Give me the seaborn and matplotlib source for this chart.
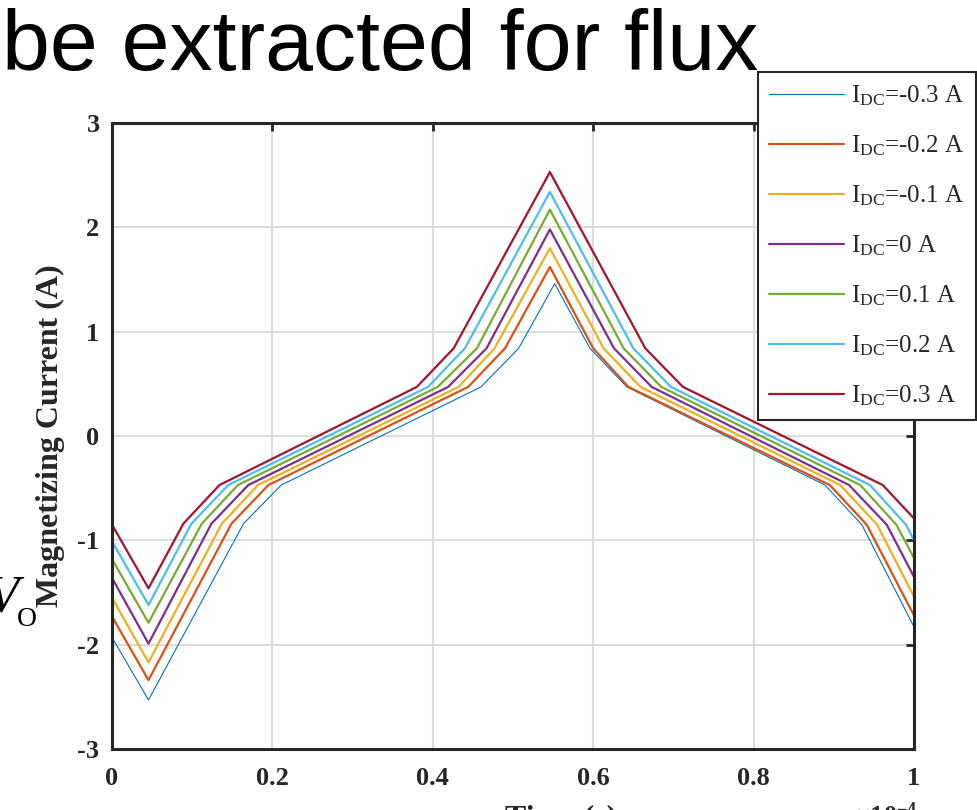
import pandas as pd
import matplotlib
matplotlib.use('Agg')
import matplotlib.pyplot as plt
import seaborn as sns

# ── Data (time axis in units of 1e-4 s) ────────────────────────────
idc_labels = ['-0.3', '-0.2', '-0.1', '0', '0.1', '0.2', '0.3']
colors = ['#0072BD', '#D95319', '#EDB120', '#7E2F8E', '#77AC30', '#4DBEEE', '#A2142F']
widths = [0.8, 1.6, 1.6, 1.6, 1.6, 1.6, 1.6]

t_m03 = [0, 0.0455, 0.164, 0.211, 0.460, 0.507, 0.552, 0.596, 0.642, 0.889, 0.935, 1.0]
i_m03 = [-1.93, -2.53, -0.84, -0.47, 0.47, 0.84, 1.46, 0.84, 0.47, -0.47, -0.85, -1.83]

t_m02 = [0, 0.0455, 0.149, 0.195, 0.444, 0.490, 0.546, 0.600, 0.644, 0.895, 0.941, 1.0]
i_m02 = [-1.73, -2.34, -0.84, -0.47, 0.47, 0.84, 1.62, 0.84, 0.47, -0.47, -0.85, -1.72]

t_m01 = [0, 0.0455, 0.137, 0.182, 0.432, 0.477, 0.546, 0.613, 0.659, 0.908, 0.954, 1.0]
i_m01 = [-1.55, -2.17, -0.84, -0.47, 0.47, 0.84, 1.80, 0.84, 0.47, -0.47, -0.85, -1.54]

t_0 = [0, 0.0455, 0.124, 0.170, 0.419, 0.467, 0.546, 0.626, 0.673, 0.919, 0.966, 1.0]
i_0 = [-1.36, -1.99, -0.84, -0.47, 0.47, 0.84, 1.98, 0.84, 0.47, -0.47, -0.85, -1.35]

t_p01 = [0, 0.0455, 0.112, 0.157, 0.406, 0.455, 0.546, 0.638, 0.685, 0.933, 0.978, 1.0]
i_p01 = [-1.18, -1.79, -0.84, -0.47, 0.47, 0.84, 2.17, 0.84, 0.47, -0.47, -0.85, -1.17]

t_p02 = [0, 0.0455, 0.099, 0.145, 0.394, 0.440, 0.546, 0.650, 0.697, 0.945, 0.990, 1.0]
i_p02 = [-1.01, -1.62, -0.84, -0.47, 0.47, 0.84, 2.34, 0.84, 0.47, -0.47, -0.85, -1.00]

t_p03 = [0, 0.0455, 0.089, 0.134, 0.380, 0.426, 0.546, 0.665, 0.712, 0.961, 1.0]
i_p03 = [-0.85, -1.46, -0.84, -0.47, 0.47, 0.84, 2.53, 0.84, 0.47, -0.47, -0.79]

times = [t_m03, t_m02, t_m01, t_0, t_p01, t_p02, t_p03]
currents = [i_m03, i_m02, i_m01, i_0, i_p01, i_p02, i_p03]

xticks = [0, 0.2, 0.4, 0.6, 0.8, 1]
xticklabels = ['0', '0.2', '0.4', '0.6', '0.8', '1']
yticks = [-3, -2, -1, 0, 1, 2, 3]
yticklabels = ['-3', '-2', '-1', '0', '1', '2', '3']

# ── Style ──────────────────────────────────────────────
sns.set_theme(style='white')
plt.rcParams['font.family'] = ['Liberation Serif', 'DejaVu Serif']
plt.rcParams['mathtext.fontset'] = 'custom'
plt.rcParams['mathtext.rm'] = 'Liberation Serif'
plt.rcParams['mathtext.it'] = 'Liberation Serif:italic'
plt.rcParams['mathtext.bf'] = 'Liberation Serif:bold'
plt.rcParams['axes.unicode_minus'] = False

fig = plt.figure(figsize=(9.77, 8.10), dpi=100)
ax = fig.add_axes([112 / 977, 61 / 810, 802 / 977, 626 / 810])

# ── Curves ─────────────────────────────────────────────
for lab, t, i, c, w in zip(idc_labels, times, currents, colors, widths):
    d = pd.DataFrame({'t': t, 'i': i})
    sns.lineplot(data=d, x='t', y='i', ax=ax, color=c, linewidth=w, sort=False,
                 estimator=None, label=r'$\mathrm{I_{DC}}$=' + lab + ' A')

ax.set_xlim(0, 1)
ax.set_ylim(-3, 3)
ax.set_xticks(xticks)
ax.set_xticklabels(xticklabels, fontweight='bold')
ax.set_yticks(yticks)
ax.set_yticklabels(yticklabels, fontweight='bold')
ax.tick_params(direction='in', length=6, width=2, top=True, right=True,
               labelsize=19, colors='#262626')
ax.tick_params(axis='x', pad=13)
ax.tick_params(axis='y', pad=9)
ax.grid(True, color='#dcdcdc', linewidth=1.5)
ax.set_axisbelow(True)
for s in ax.spines.values():
    s.set_color('#262626')
    s.set_linewidth(2.2)

ax.set_ylabel('Magnetizing Current (A)', fontsize=23, fontweight='bold', color='#262626')
ax.yaxis.set_label_coords(-0.058, 0.5)
ax.set_xlabel('Time (s)', fontsize=23, fontweight='bold', color='#262626')
ax.xaxis.set_label_coords(0.56, -0.088)

leg = ax.legend(loc='upper left', bbox_to_anchor=(758 / 977, 738 / 810),
                bbox_transform=fig.transFigure, fontsize=18, frameon=True,
                fancybox=False, edgecolor='#262626', framealpha=1,
                handlelength=3.0, handletextpad=0.28, borderpad=0.45,
                labelspacing=1.02, borderaxespad=0)
leg.get_frame().set_linewidth(1.5)

# ── Slide text around the figure ───────────────────────
fig.text(2 / 977, 740 / 810, 'be extracted for flux', family='Liberation Sans',
         fontsize=62, va='baseline', ha='left', color='black')
fig.text(-14 / 977, 198 / 810, 'V', fontsize=38, style='italic', va='baseline', color='black')
fig.text(17 / 977, 184 / 810, 'O', fontsize=20, va='baseline', color='black')
fig.text(918 / 977, 8 / 810, r'$\times\mathbf{10^{-4}}$', fontsize=19, ha='right', va='top',
         color='#262626')

plt.savefig('out.png', dpi=100)
